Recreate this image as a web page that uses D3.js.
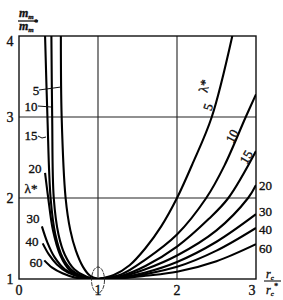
<!DOCTYPE html>
<html>
<head>
<meta charset="utf-8">
<script src="https://cdn.jsdelivr.net/npm/d3@7"></script>
<style>
  body { margin: 0; background: #fff; }
  text { font-family: "Liberation Serif", "DejaVu Serif", serif; fill: #111; stroke: #111; stroke-width: 0.35; }
</style>
</head>
<body>
<div id="chart"></div>
<script>
// lambda* values of the family
var lambdas = [5, 10, 15, 20, 30, 40, 60];

// left branches (r/r* < 1)
var leftBranch = {
  5:  [[0.53,4],[0.54,3],[0.59,2],[0.65,1.6],[0.72,1.35],[0.81,1.15],[0.90,1.04],[1.0,1.0]],
  10: [[0.41,4],[0.42,3],[0.44,2],[0.50,1.55],[0.58,1.3],[0.70,1.12],[0.85,1.03],[1.0,1.0]],
  15: [[0.33,4],[0.36,3],[0.40,2],[0.46,1.55],[0.55,1.27],[0.68,1.1],[0.84,1.02],[1.0,1.0]],
  20: [[0.33,2.31],[0.37,2],[0.43,1.6],[0.52,1.3],[0.65,1.1],[0.82,1.02],[1.0,1.0]],
  30: [[0.29,1.65],[0.36,1.45],[0.45,1.27],[0.58,1.12],[0.76,1.03],[1.0,1.0]],
  40: [[0.30,1.44],[0.38,1.3],[0.48,1.18],[0.62,1.08],[0.80,1.02],[1.0,1.0]],
  60: [[0.32,1.23],[0.42,1.14],[0.55,1.07],[0.70,1.02],[0.85,1.0],[1.0,1.0]]
};

// right branches (r/r* > 1)
var rightBranch = {
  5:  [[1,1],[1.2,1.05],[1.4,1.17],[1.6,1.38],[1.8,1.65],[2,2],[2.2,2.43],[2.44,3],[2.7,4]],
  10: [[1,1],[1.3,1.06],[1.6,1.24],[2,1.55],[2.37,2],[2.6,2.4],[2.87,3],[3,3.28]],
  15: [[1,1],[1.3,1.04],[1.6,1.16],[2,1.4],[2.4,1.74],[2.65,2],[3,2.58]],
  20: [[1,1],[1.3,1.03],[1.6,1.12],[2,1.29],[2.5,1.6],[2.9,2],[3,2.16]],
  30: [[1,1],[1.3,1.02],[1.6,1.08],[2,1.21],[2.5,1.46],[3,1.8]],
  40: [[1,1],[1.3,1.015],[1.6,1.06],[2,1.15],[2.5,1.35],[3,1.63]],
  60: [[1,1],[1.3,1.01],[1.6,1.04],[2,1.09],[2.5,1.22],[3,1.43]]
};

var xTicks = [0, 1, 2, 3];
var yTicks = [1, 2, 3, 4];

var width = 283, height = 300;
var x = d3.scaleLinear().domain([0, 3]).range([19, 256]);
var y = d3.scaleLinear().domain([1, 4]).range([279, 36]);

var svg = d3.select("#chart").append("svg")
    .attr("width", width)
    .attr("height", height);

svg.append("clipPath").attr("id", "clip")
  .append("rect")
    .attr("x", x(0)).attr("y", y(4))
    .attr("width", x(3) - x(0)).attr("height", y(1) - y(4));

// grid
var grid = svg.append("g").attr("stroke", "#222").attr("stroke-width", 1.1);
grid.selectAll(".vg").data([1, 2])
  .enter().append("line")
    .attr("x1", function(d) { return x(d); }).attr("x2", function(d) { return x(d); })
    .attr("y1", y(4)).attr("y2", y(1));
grid.selectAll(".hg").data([2, 3])
  .enter().append("line")
    .attr("x1", x(0)).attr("x2", x(3))
    .attr("y1", function(d) { return y(d); }).attr("y2", function(d) { return y(d); });

svg.append("rect")
    .attr("x", x(0)).attr("y", y(4))
    .attr("width", x(3) - x(0)).attr("height", y(1) - y(4))
    .attr("fill", "none").attr("stroke", "#111").attr("stroke-width", 1.4);

// curves
var line = d3.line()
    .x(function(d) { return x(d[0]); })
    .y(function(d) { return y(d[1]); })
    .curve(d3.curveCatmullRom.alpha(0.5));

var curves = svg.append("g").attr("clip-path", "url(#clip)");
lambdas.forEach(function(l) {
  [leftBranch[l], rightBranch[l]].forEach(function(pts) {
    curves.append("path")
      .attr("d", line(pts))
      .attr("fill", "none")
      .attr("stroke", "#000")
      .attr("stroke-width", 2.1);
  });
});

// ellipse around the minimum
svg.append("ellipse")
    .attr("cx", x(1)).attr("cy", y(1) + 1)
    .attr("rx", 6.5).attr("ry", 13)
    .attr("fill", "none").attr("stroke", "#222")
    .attr("stroke-width", 0.9).attr("stroke-dasharray", "4,1");

// tick labels
svg.selectAll(".yt").data(yTicks)
  .enter().append("text")
    .attr("x", 10)
    .attr("y", function(d) { return y(d) + (d === 4 ? 10 : 5); })
    .attr("text-anchor", "middle")
    .attr("font-size", 14)
    .text(function(d) { return d; });

svg.selectAll(".xt").data(xTicks)
  .enter().append("text")
    .attr("x", function(d) { return d === 3 ? x(d) - 4 : x(d); })
    .attr("y", 295)
    .attr("text-anchor", "middle")
    .attr("font-size", 14)
    .text(function(d) { return d; });

// left labels with leaders
var leftLabels = [
  { t: "5",  x: 36, y: 95,  lead: [[39, 90], [61, 87]] },
  { t: "10", x: 31, y: 111, lead: [[38, 106], [51, 107]] },
  { t: "15", x: 31, y: 140, lead: [[38, 136], [42, 138], [46, 137]] },
  { t: "20", x: 35, y: 173 },
  { t: "λ*", x: 31, y: 193 },
  { t: "30", x: 33, y: 223 },
  { t: "40", x: 32, y: 246 },
  { t: "60", x: 36, y: 267 }
];
leftLabels.forEach(function(d) {
  svg.append("text")
    .attr("x", d.x).attr("y", d.y)
    .attr("text-anchor", "middle")
    .attr("font-size", 13)
    .text(d.t);
  if (d.lead) {
    svg.append("path")
      .attr("d", d3.line()(d.lead))
      .attr("fill", "none").attr("stroke", "#111").attr("stroke-width", 1);
  }
});

// rotated labels along the right curves
var rotLabels = [
  { t: "λ*", x: 204, y: 86,  r: -78 },
  { t: "5",  x: 208, y: 107, r: -72 },
  { t: "10", x: 232, y: 136, r: -62 },
  { t: "15", x: 246, y: 157, r: -60 }
];
rotLabels.forEach(function(d) {
  svg.append("text")
    .attr("transform", "translate(" + d.x + "," + d.y + ") rotate(" + d.r + ")")
    .attr("text-anchor", "middle")
    .attr("dy", "0.35em")
    .attr("font-size", 13)
    .text(d.t);
});

var rightLabels = [
  { t: "20", y: 190 },
  { t: "30", y: 216 },
  { t: "40", y: 234 },
  { t: "60", y: 253 }
];
rightLabels.forEach(function(d) {
  svg.append("text")
    .attr("x", 259).attr("y", d.y)
    .attr("font-size", 13)
    .text(d.t);
});

// axis titles as fractions
var yt = svg.append("g");
yt.append("text").attr("x", 19).attr("y", 17).attr("font-size", 12)
  .attr("font-style", "italic").attr("font-weight", "bold")
  .html('m<tspan font-size="7" dy="2">m</tspan>');
yt.append("line").attr("x1", 18).attr("x2", 38).attr("y1", 21).attr("y2", 21)
  .attr("stroke", "#111").attr("stroke-width", 1.3);
yt.append("text").attr("x", 19).attr("y", 30).attr("font-size", 12)
  .attr("font-style", "italic").attr("font-weight", "bold")
  .html('m<tspan font-size="7" dy="2">m</tspan><tspan font-size="8" dy="-7">*</tspan>');

var xt = svg.append("g");
xt.append("text").attr("x", 266).attr("y", 278).attr("font-size", 12)
  .attr("font-style", "italic")
  .html('r<tspan font-size="7" dy="2">c</tspan>');
xt.append("line").attr("x1", 264).attr("x2", 281).attr("y1", 281).attr("y2", 281)
  .attr("stroke", "#111").attr("stroke-width", 1.1);
xt.append("text").attr("x", 266).attr("y", 294).attr("font-size", 12)
  .attr("font-style", "italic")
  .html('r<tspan font-size="7" dy="2">c</tspan><tspan font-size="8" dy="-7">*</tspan>');
</script>
</body>
</html>
